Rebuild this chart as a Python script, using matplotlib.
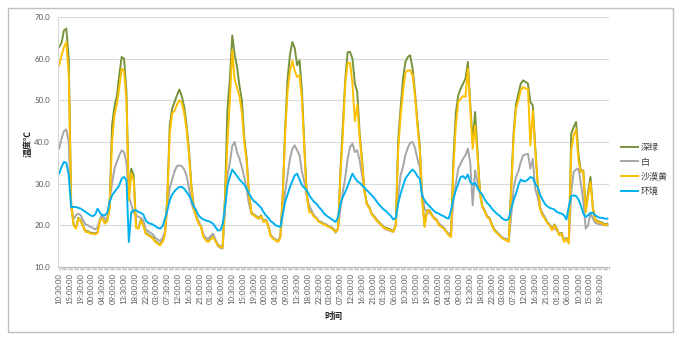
import numpy as np
import matplotlib
matplotlib.use('Agg')
import matplotlib.pyplot as plt
from matplotlib.patches import Rectangle
from matplotlib.ticker import FormatStrFormatter

plt.rcParams['font.family'] = ['Lato', 'Noto Sans CJK SC', 'DejaVu Sans']

series_names = ['深绿', '白', '沙漠黄', '环境']
series_colors = ['#77933c', '#a6a6a6', '#ffc000', '#00b0f0']

# hourly temperature readings (°C), first reading at 10:30:00
deep_green = [
    62.8, 63.8, 66.8, 67.2, 60.0, 25.5, 20.2, 19.4, 21.8, 21.2, 19.8, 18.6, 18.6, 18.2, 18.2, 18.0, 18.4, 21.4,
    21.8, 20.6, 21.2, 24.6, 44.0, 48.5, 51.0, 56.0, 60.4, 60.0, 52.0, 26.5, 33.6, 32.0, 19.6, 19.4, 21.4, 20.2,
    18.2, 17.8, 17.4, 17.0, 16.2, 15.8, 15.4, 16.2, 17.8, 27.0, 44.0, 48.0, 49.6, 51.2, 52.6, 51.0, 48.5, 44.0,
    38.0, 29.5, 24.5, 22.2, 20.6, 19.8, 17.4, 16.6, 16.2, 16.8, 17.4, 16.4, 15.4, 15.0, 14.8, 27.0, 48.0, 55.0,
    65.6, 61.0, 58.0, 53.5,
    50.0, 41.0, 36.0, 27.5, 23.0, 22.6, 22.2, 21.8, 22.4, 21.0, 21.4, 19.8, 17.6, 17.0, 16.6, 16.2, 17.2, 27.5,
    43.0, 55.0, 61.0, 64.0, 62.5, 58.4, 59.6, 52.0, 39.0, 27.5, 23.4, 23.2, 22.2, 21.8, 21.0, 20.8, 20.4, 20.2,
    19.8,
    19.6, 19.2, 18.6, 19.2, 33.0, 44.0, 55.0, 61.6, 61.6, 60.0, 54.0, 52.0, 42.0, 35.5, 28.4, 25.2, 24.4, 22.8,
    22.2, 21.4, 20.8, 20.2, 19.6, 19.4, 19.2, 19.0, 18.6, 20.2, 40.0, 48.0, 55.0, 59.2, 60.4, 60.8, 57.6, 52.0,
    45.0, 39.0,
    26.5, 19.8, 23.6, 23.6, 22.6, 21.8, 21.4, 20.2, 19.8, 19.4, 18.6, 17.8, 17.4, 36.0, 47.0, 51.2, 52.8, 54.0,
    55.2, 59.2, 49.0, 40.0, 47.2, 37.6, 28.4, 24.6, 23.6, 22.2, 21.8, 20.2, 19.0, 18.4, 17.8, 17.2, 16.8, 16.6,
    16.2,
    29.0, 42.0, 49.0, 51.6, 54.0, 54.8, 54.4, 54.0, 49.6, 48.8, 39.0, 30.4, 24.2, 22.6, 21.8, 20.8, 20.2, 19.0,
    20.2, 19.2, 17.8, 18.2, 16.2, 17.0, 15.8, 42.0, 43.6, 44.8, 37.0, 33.0, 33.2, 23.4, 28.0, 31.6, 24.2, 21.4,
    21.0, 20.8, 20.6, 20.2, 20.4,
]
white = [
    38.4, 40.8, 42.6, 43.0, 40.0, 24.0, 21.5, 22.4, 22.8, 22.4, 21.2, 20.2, 20.0, 19.6, 19.4, 19.0, 19.6, 21.6,
    22.6, 21.4, 21.8, 26.0, 30.0, 33.6, 35.2, 36.8, 38.0, 37.6, 35.0, 27.0, 25.0, 23.0, 22.4, 22.0, 21.8, 21.2,
    19.0, 18.6, 18.2, 17.8, 17.0, 16.6, 16.2, 17.0, 18.4, 24.0, 29.0, 31.0, 33.0, 34.2, 34.4, 34.2, 33.4, 32.0,
    29.0, 25.4, 23.6, 22.4, 21.0, 19.6, 17.8, 17.0, 16.8, 17.4, 18.0, 16.6, 15.0, 14.6, 14.4, 24.0, 32.0, 35.0,
    39.0, 40.0, 37.5, 36.0,
    34.0, 31.5, 28.5, 25.0, 22.8, 22.4, 22.0, 21.6, 22.0, 21.0, 21.4, 19.8, 17.6, 17.0, 16.6, 16.2, 17.6, 23.0,
    28.0, 32.0, 36.0, 38.4, 39.2, 38.0, 36.8, 32.8, 30.4, 27.0, 24.8, 23.6, 22.4, 21.8, 21.0, 20.8, 20.4, 20.2,
    19.8,
    19.6, 19.0, 18.2, 19.2, 24.0, 28.0, 31.5, 36.0, 38.8, 39.6, 37.6, 38.0, 35.5, 32.0, 28.0, 25.0, 24.2, 22.8,
    22.0, 21.2, 20.6, 20.0, 19.4, 19.0, 18.8, 18.6, 18.4, 20.0, 27.0, 32.0, 34.0, 36.8, 38.6, 39.8, 40.0, 38.6,
    36.0, 34.0,
    28.0, 24.0, 23.2, 23.0, 22.4, 21.6, 21.2, 20.4, 20.0, 19.4, 18.6, 17.8, 18.4, 26.0, 30.0, 33.6, 34.8, 36.0,
    36.8, 38.4, 35.0, 24.8, 33.2, 30.4, 27.6, 24.4, 23.4, 22.0, 21.6, 20.0, 19.0, 18.2, 17.8, 17.2, 16.8, 16.8,
    16.4,
    22.0, 28.8, 31.6, 33.0, 35.2, 36.8, 37.0, 37.2, 33.6, 36.0, 28.8, 26.8, 24.2, 23.0, 22.0, 20.8, 20.0, 19.4,
    19.2, 18.8, 18.0, 17.6, 16.8, 16.4, 16.0, 28.0, 32.8, 33.4, 33.6, 30.0, 26.0, 19.2, 20.0, 23.0, 21.6, 20.6,
    20.4, 20.2, 20.2, 20.0, 20.0,
]
desert_yellow = [
    58.4, 60.8, 62.8, 64.0, 56.0, 25.0, 20.0, 19.2, 21.6, 21.0, 19.6, 18.4, 18.4, 18.0, 18.0, 17.8, 18.2, 21.2,
    21.6, 20.4, 21.0, 24.0, 40.0, 46.5, 49.0, 53.0, 57.6, 57.0, 50.0, 26.0, 32.5, 31.0, 19.4, 19.2, 21.2, 20.0,
    18.0, 17.6, 17.2, 16.8, 16.0, 15.6, 15.2, 16.0, 17.6, 26.0, 42.0, 46.8, 47.5, 49.0, 50.0, 49.5, 47.0, 43.0,
    37.0, 29.0, 24.0, 22.0, 20.4, 19.6, 17.2, 16.4, 16.0, 16.6, 17.2, 16.2, 15.2, 14.8, 14.6, 26.0, 40.0, 50.0,
    62.0, 55.0, 53.0, 51.0,
    47.0, 40.0, 35.0, 27.0, 22.8, 22.4, 22.0, 21.6, 22.2, 20.8, 21.2, 19.6, 17.4, 16.8, 16.4, 16.0, 17.0, 27.0,
    42.0, 52.0, 57.0, 59.5, 57.0, 55.6, 56.0, 50.0, 38.0, 27.0, 23.2, 23.0, 22.0, 21.6, 20.8, 20.6, 20.2, 20.0,
    19.6,
    19.4, 19.0, 18.4, 19.0, 32.0, 42.0, 54.0, 59.0, 59.0, 54.0, 45.0, 49.0, 41.0, 35.0, 28.0, 25.0, 24.2, 22.6,
    22.0, 21.2, 20.6, 20.0, 19.4, 19.2, 19.0, 18.8, 18.4, 20.0, 38.0, 46.0, 52.0, 56.6, 57.2, 57.2, 56.0, 51.2,
    44.0, 38.0,
    26.0, 19.6, 23.4, 23.4, 22.4, 21.6, 21.2, 20.0, 19.6, 19.2, 18.4, 17.6, 17.2, 34.0, 44.0, 49.6, 50.4, 51.0,
    50.8, 57.6, 48.0, 38.4, 44.0, 36.8, 28.0, 24.4, 23.4, 22.0, 21.6, 20.0, 18.8, 18.2, 17.6, 17.0, 16.6, 16.4,
    16.0,
    28.0, 40.8, 48.0, 50.0, 52.4, 53.2, 52.8, 52.8, 39.2, 47.5, 38.4, 30.0, 24.0, 22.4, 21.6, 20.6, 20.0, 18.8,
    20.0, 19.0, 17.6, 18.0, 16.0, 16.8, 15.6, 38.0, 41.6, 43.0, 35.6, 32.8, 33.0, 23.2, 27.0, 30.4, 24.0, 21.2,
    20.8, 20.6, 20.4, 20.0, 20.2,
]
ambient = [
    32.4, 34.0, 35.2, 35.0, 32.0, 24.4, 24.4, 24.4, 24.2, 24.0, 23.6, 23.2, 22.8, 22.4, 22.2, 22.6, 24.0, 23.0,
    22.4, 22.4, 23.0, 25.6, 27.2, 28.0, 28.8, 29.6, 31.2, 31.6, 30.8, 16.0, 23.2, 23.6, 23.6, 23.2, 23.0, 22.6,
    21.2, 20.6, 20.4, 20.2, 19.8, 19.4, 19.2, 19.8, 21.6, 23.6, 26.0, 27.4, 28.2, 28.8, 29.2, 29.2, 28.8, 28.0,
    27.2, 26.0, 24.6, 23.6, 22.4, 21.8, 21.4, 21.2, 21.0, 20.8, 20.4, 19.6, 18.8, 18.8, 20.2, 24.4, 29.5, 31.6,
    33.4, 32.6, 31.8, 31.0,
    30.4, 29.8, 28.8, 27.6, 26.6, 25.8, 25.4, 24.8, 24.2, 23.2, 22.4, 21.8, 21.0, 20.6, 20.0, 19.8, 19.6, 22.6,
    25.6, 27.4, 29.2, 30.6, 32.0, 32.4, 31.0, 29.6, 29.0, 28.4, 27.2, 26.4, 25.6, 25.2, 24.4, 23.8, 23.0, 22.4,
    22.0,
    21.6, 21.2, 20.8, 22.0, 25.2, 26.8, 28.0, 29.4, 31.0, 32.4, 31.4, 30.6, 30.2, 29.6, 29.0, 28.4, 27.8, 27.2,
    26.6, 25.8, 25.0, 24.4, 23.8, 23.4, 22.8, 22.2, 21.4, 21.8, 25.2, 27.6, 29.4, 31.2, 32.0, 32.8, 33.4, 32.8,
    31.8, 31.2,
    27.0, 26.0, 25.2, 24.6, 24.0, 23.4, 23.0, 22.8, 22.4, 22.2, 21.8, 21.6, 23.6, 26.4, 28.4, 30.0, 31.6, 31.8,
    31.2, 32.2, 30.4, 29.8, 30.2, 29.0, 28.0, 27.4, 26.2, 25.4, 24.8, 24.0, 23.4, 22.8, 22.4, 21.8, 21.4, 21.2,
    21.6,
    24.0, 26.0, 27.6, 29.6, 31.0, 30.6, 30.6, 31.0, 31.6, 31.4, 30.0, 29.2, 27.4, 26.2, 25.2, 24.6, 24.2, 24.0,
    23.8, 23.2, 23.0, 22.8, 22.4, 21.4, 24.5, 27.0, 27.2, 27.0, 26.2, 24.8, 22.8, 22.0, 22.4, 23.0, 23.0, 22.4,
    22.0, 21.8, 21.8, 21.6, 21.6,
]

# category labels repeat every 3 days, one label per 4.5 h
tick_cycle = ['10:30:00', '15:00:00', '19:30:00', '00:00:00', '04:30:00', '09:00:00', '13:30:00', '18:00:00',
              '22:30:00', '03:00:00', '07:30:00', '12:00:00', '16:30:00', '21:00:00', '01:30:00', '06:00:00']
tick_labels = tick_cycle * 3 + tick_cycle[:3]
tick_step = 4.5

W, H = 680, 340
fig = plt.figure(figsize=(W / 100, H / 100), dpi=100)
fig.patches.append(Rectangle((7.5 / W, 1 - 331.5 / H), 665.5 / W, 324 / H, transform=fig.transFigure,
                             fill=False, edgecolor='#bfbfbf', lw=1.0))

ax = fig.add_axes([57.7 / W, 1 - 267 / H, (609 - 57.7) / W, 250 / H])
for name, vals, col in zip(series_names, [deep_green, white, desert_yellow, ambient], series_colors):
    ax.plot(np.arange(len(vals)), vals, color=col, lw=1.4, label=name, solid_joinstyle='round')

ax.set_xlim(-0.6, 228.7)
ax.set_ylim(10, 70)
ax.set_yticks(np.arange(10, 71, 10))
ax.yaxis.set_major_formatter(FormatStrFormatter('%.1f'))
ax.grid(axis='y', color='#d9d9d9', lw=0.8)
ax.set_axisbelow(True)

ax.set_xticks(np.arange(len(tick_labels)) * tick_step)
ax.set_xticklabels(tick_labels, rotation=90, fontsize=5.6, color='#595959')
ax.set_xticks(np.arange(0, 229, 0.5), minor=True)
ax.tick_params(axis='x', which='both', length=2.5, width=0.5, color='#bfbfbf', pad=2)
ax.tick_params(axis='y', length=0, pad=5.5, labelsize=5.8, labelcolor='#595959')

for side in ['top', 'right']:
    ax.spines[side].set_visible(False)
ax.spines['left'].set_color('#d9d9d9')
ax.spines['bottom'].set_color('#bfbfbf')
ax.spines['left'].set_linewidth(0.8)
ax.spines['bottom'].set_linewidth(0.8)

fig.text(28 / W, 1 - 143 / H, '温度℃', rotation=90, fontsize=6.5, fontweight='bold',
         ha='center', va='center', color='#262626')
fig.text(333 / W, 1 - 316 / H, '时间', fontsize=6.5, fontweight='bold',
         ha='center', va='center', color='#262626')

leg = ax.legend(loc='center left', bbox_to_anchor=(621 / W, 1 - 169.5 / H), bbox_transform=fig.transFigure,
                frameon=False, fontsize=6.5, handlelength=1.9, handletextpad=0.3, labelspacing=0.62,
                borderpad=0, borderaxespad=0)
for t in leg.get_texts():
    t.set_color('#404040')

fig.savefig('out.png', dpi=100)
